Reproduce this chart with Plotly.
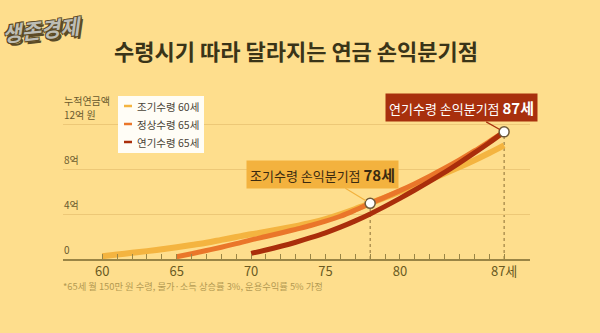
import plotly.graph_objects as go

# ---- data ----
ages_early = list(range(60, 88))
vals_early = [0.25, 0.4, 0.55, 0.7, 0.87, 1.05, 1.25, 1.45, 1.7, 1.95, 2.2, 2.42, 2.66, 2.92,
              3.2, 3.55, 3.97, 4.44, 4.95, 5.47, 5.98, 6.5, 7.05, 7.6, 8.17, 8.78, 9.42, 10.1]
ages_normal = list(range(65, 88))
vals_normal = [0.2, 0.47, 0.75, 1.05, 1.37, 1.7, 2.0, 2.31, 2.64, 2.98, 3.36, 3.8, 4.35, 4.95,
               5.5, 6.08, 6.7, 7.36, 8.06, 8.8, 9.6, 10.44, 11.3]
ages_late = list(range(70, 88))
vals_late = [0.5, 0.8, 1.13, 1.49, 1.89, 2.33, 2.83, 3.39, 4.01, 4.68, 5.39, 6.13, 6.9, 7.7,
             8.55, 9.43, 10.34, 11.3]
series_names = ["조기수령 60세", "정상수령 65세", "연기수령 65세"]
series_colors = ["#F4B440", "#EA762A", "#AA2E0B"]
series_widths = [6, 5, 5]

breakeven_ages = [78, 87]
breakeven_vals = [4.95, 11.3]
breakeven_labels = ["조기수령 손익분기점 <b><span style='font-size:15px'>78세</span></b>",
                    "연기수령 손익분기점 <b><span style='font-size:15px'>87세</span></b>"]
breakeven_bg = ["#F3B23E", "#A8300D"]
breakeven_fg = ["#3A2A10", "#FFFFFF"]
breakeven_offsets = [(-48, -29), (-43, -24)]

x_tick_vals = list(range(60, 88))
x_tick_text = ["60" if a == 60 else "65" if a == 65 else "70" if a == 70 else
               "75" if a == 75 else "80" if a == 80 else "87세" if a == 87 else ""
               for a in x_tick_vals]
y_tick_vals = [0, 4, 8, 12]
y_tick_text = ["0", "4억", "8억", "12억 원"]
y_title = "누적연금액"

title = "수령시기 따라 달라지는 연금 손익분기점"
footnote = "*65세 월 150만 원 수령, 물가·소득 상승률 3%, 운용수익률 5% 가정"
logo = "생존경제"

BG = "#FEDE8D"
FONT = "Noto Sans CJK KR"

L, R, T, B = 63, 70, 80, 74
PW, PH = 600 - L - R, 333 - T - B


def px(x):
    return (x - L) / PW


def py(y):  # y in pixels from top
    return (333 - B - y) / PH


fig = go.Figure()
for xs, ys, name, col, w in zip([ages_early, ages_normal, ages_late],
                                [vals_early, vals_normal, vals_late],
                                series_names, series_colors, series_widths):
    fig.add_trace(go.Scatter(x=xs, y=ys, mode="lines", name=name,
                             line=dict(color=col, width=w, shape="spline", smoothing=1),
                             showlegend=False, hoverinfo="skip"))

# dotted drop lines
for a, v in zip(breakeven_ages, breakeven_vals):
    fig.add_shape(type="line", x0=a, x1=a, y0=0, y1=v, xref="x", yref="y",
                  line=dict(color="#8A6E35", width=1, dash="dot"), layer="below")

fig.add_trace(go.Scatter(x=breakeven_ages, y=breakeven_vals, mode="markers",
                         marker=dict(size=10, color="white",
                                     line=dict(color="#6E5A3A", width=1.5)),
                         showlegend=False, hoverinfo="skip"))

annotations = []
for a, v, lab, bg, fg, (ax, ay) in zip(breakeven_ages, breakeven_vals, breakeven_labels,
                                       breakeven_bg, breakeven_fg, breakeven_offsets):
    annotations.append(dict(x=a, y=v, xref="x", yref="y", text=lab, showarrow=True,
                            arrowhead=0, arrowwidth=1.2, arrowcolor=bg, ax=ax, ay=ay,
                            bgcolor=bg, borderpad=3, standoff=5,
                            font=dict(family=FONT, size=13, color=fg)))

# y tick labels (above gridlines, left aligned)
for v, t in zip(y_tick_vals, y_tick_text):
    annotations.append(dict(x=0, xref="paper", y=v, yref="y", text=t, showarrow=False,
                            xanchor="left", yanchor="bottom", yshift=1, borderpad=0,
                            font=dict(family=FONT, size=10, color="#6A5A2E")))
annotations.append(dict(x=0, xref="paper", y=y_tick_vals[-1], yref="y", text=y_title,
                        showarrow=False, xanchor="left", yanchor="bottom", yshift=15,
                        borderpad=0, font=dict(family=FONT, size=10, color="#6A5A2E")))

# title, footnote, logo
annotations.append(dict(x=px(296), y=py(50), xref="paper", yref="paper",
                        text=f"<b>{title}</b>", showarrow=False,
                        xanchor="center", yanchor="middle",
                        font=dict(family=FONT, size=22, color="#3A3418")))
annotations.append(dict(x=px(61), y=py(286), xref="paper", yref="paper", text=footnote,
                        showarrow=False, xanchor="left", yanchor="middle",
                        font=dict(family=FONT, size=9.3, color="#B49A52")))
annotations.append(dict(x=px(42), y=py(29), xref="paper", yref="paper",
                        text=f"<b><i>{logo}</i></b>", showarrow=False, textangle=-6,
                        xanchor="center", yanchor="middle",
                        font=dict(family=FONT, size=21, color="#BDBDB5",
                                  shadow="1px 1px 0 #5B4A26, -1px -1px 0 #5B4A26, 1px -1px 0 #5B4A26, -1px 1px 0 #5B4A26, 2px 3px 0 #5B4A26")))

# custom legend
lx0, ly0, lx1, ly1 = 118, 96, 204, 153
fig.add_shape(type="rect", xref="paper", yref="paper",
              x0=px(lx0), x1=px(lx1), y0=py(ly1), y1=py(ly0),
              fillcolor="#FFFDF6", line=dict(width=0), layer="above")
for i, (name, col) in enumerate(zip(series_names, series_colors)):
    yy = 106 + i * 18
    fig.add_shape(type="line", xref="paper", yref="paper",
                  x0=px(124), x1=px(132), y0=py(yy), y1=py(yy),
                  line=dict(color=col, width=2.5), layer="above")
    annotations.append(dict(x=px(135), y=py(yy), xref="paper", yref="paper",
                            text=name, showarrow=False, xanchor="left", yanchor="middle",
                            font=dict(family=FONT, size=10.5, color="#4A4438")))

fig.update_layout(
    width=600, height=333, paper_bgcolor=BG, plot_bgcolor=BG,
    margin=dict(l=L, r=R, t=T, b=B), showlegend=False,
    annotations=annotations,
    xaxis=dict(range=[57.36, 88.74], tickvals=x_tick_vals, ticktext=x_tick_text,
               ticks="inside", ticklen=5, tickcolor="#9A8545", tickwidth=1,
               showline=True, linecolor="#9A8545", linewidth=1.5,
               showgrid=False, zeroline=False, fixedrange=True,
               tickfont=dict(family=FONT, size=13, color="#6A5A22")),
    yaxis=dict(range=[0, PH / 11.25], tickvals=y_tick_vals, showticklabels=False,
               showgrid=True, gridcolor="#EDC877", gridwidth=1, zeroline=False,
               showline=False, fixedrange=True),
)

fig.write_html("out.html", config={"displayModeBar": False})
